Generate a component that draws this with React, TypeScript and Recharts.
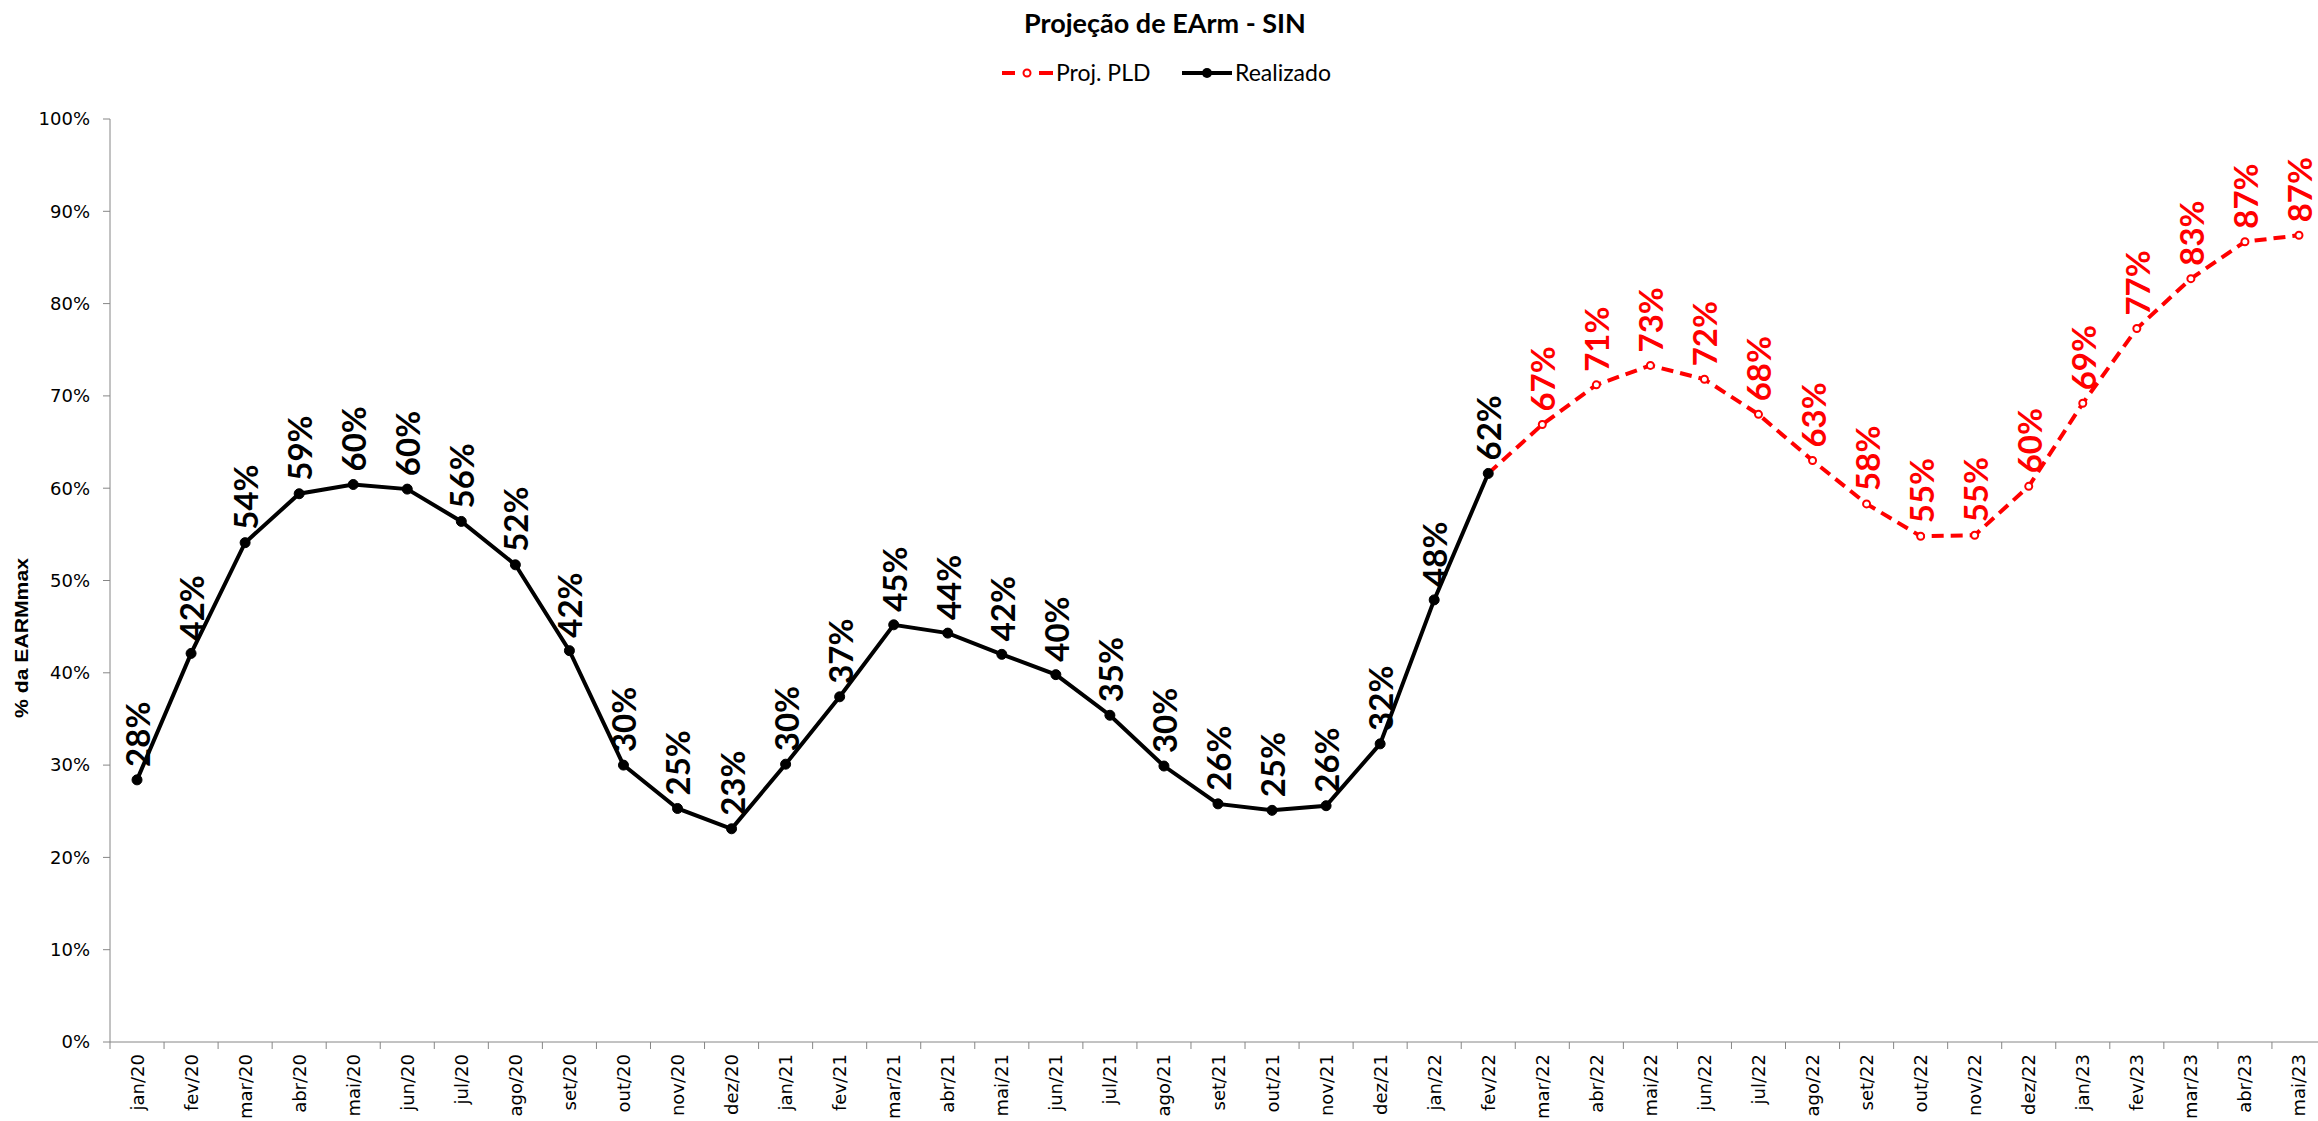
import React from 'react';
import { LineChart, Line, XAxis, YAxis, LabelList } from 'recharts';

const months = [
  'jan/20', 'fev/20', 'mar/20', 'abr/20', 'mai/20', 'jun/20', 'jul/20', 'ago/20', 'set/20', 'out/20', 'nov/20', 'dez/20',
  'jan/21', 'fev/21', 'mar/21', 'abr/21', 'mai/21', 'jun/21', 'jul/21', 'ago/21', 'set/21', 'out/21', 'nov/21', 'dez/21',
  'jan/22', 'fev/22', 'mar/22', 'abr/22', 'mai/22', 'jun/22', 'jul/22', 'ago/22', 'set/22', 'out/22', 'nov/22', 'dez/22',
  'jan/23', 'fev/23', 'mar/23', 'abr/23', 'mai/23',
];

// Realizado: jan/20 .. fev/22
const realizado = [
  28.4, 42.1, 54.1, 59.4, 60.4, 59.9, 56.4, 51.7, 42.4, 30.0, 25.3, 23.1,
  30.1, 37.4, 45.2, 44.3, 42.0, 39.8, 35.4, 29.9, 25.8, 25.1, 25.6, 32.3,
  47.9, 61.6,
];

// Proj. PLD: fev/22 .. mai/23
const projPLD = [
  61.6, 66.9, 71.2, 73.3, 71.8, 68.0, 63.0, 58.3, 54.8, 54.9, 60.2,
  69.2, 77.3, 82.7, 86.7, 87.4,
];

const yTicks = [0, 10, 20, 30, 40, 50, 60, 70, 80, 90, 100];

const projStart = realizado.length - 1;

const data = months.map((m, i) => ({
  month: m,
  realizado: i < realizado.length ? realizado[i] : null,
  proj: i >= projStart ? projPLD[i - projStart] : null,
}));

const W = 2336;
const H = 1121;
const MARGIN = { top: 119, right: 10, left: 0, bottom: 0 };
const Y_W = 110;
const X_H = 79;
const PLOT_W = W - MARGIN.left - MARGIN.right - Y_W;
const HALF = PLOT_W / months.length / 2;

const AXIS_COLOR = '#868686';
const LABEL_FONT = 'Lato, "Open Sans", sans-serif';
const AXIS_FONT = '"DejaVu Sans", Verdana, sans-serif';

const XTick = (props: any) => {
  const { x, y, payload, index } = props;
  const ly = y + 12;
  return (
    <g>
      <line x1={x - HALF} x2={x - HALF} y1={y} y2={y + 7} stroke={AXIS_COLOR} strokeWidth={1} />
      {index === months.length - 1 && (
        <line x1={x + HALF} x2={x + HALF} y1={y} y2={y + 7} stroke={AXIS_COLOR} strokeWidth={1} />
      )}
      <text
        x={x}
        y={ly}
        transform={`rotate(-90 ${x} ${ly})`}
        textAnchor="end"
        dominantBaseline="central"
        fontFamily={AXIS_FONT}
        fontSize={18}
        fill="#000"
      >
        {payload.value}
      </text>
    </g>
  );
};

const makeLabel = (color: string, skipFirst: boolean) => (props: any) => {
  const { x, y, value, index } = props;
  if (value == null || x == null || y == null) return null;
  if (skipFirst && index === projStart) return null;
  const ty = y - 13;
  return (
    <text
      x={x}
      y={ty}
      transform={`rotate(-90 ${x} ${ty})`}
      textAnchor="start"
      dominantBaseline="central"
      fontFamily={LABEL_FONT}
      fontWeight={700}
      fontSize={33}
      fill={color}
    >
      {`${Math.round(value)}%`}
    </text>
  );
};

const RedDot = (props: any) => {
  const { cx, cy, index } = props;
  if (cx == null || cy == null || props.value == null) return null;
  return <circle key={`rd-${index}`} cx={cx} cy={cy} r={3.5} fill="#fff" stroke="#FF0000" strokeWidth={2} />;
};

const BlackDot = (props: any) => {
  const { cx, cy, index } = props;
  if (cx == null || cy == null || props.value == null) return null;
  return <circle key={`bd-${index}`} cx={cx} cy={cy} r={5} fill="#000" stroke="#000" strokeWidth={1} />;
};

export default function App() {
  return (
    <div
      style={{
        position: 'fixed',
        left: 0,
        top: 0,
        width: 2318,
        height: 1121,
        overflow: 'hidden',
        background: '#fff',
      }}
    >
      <LineChart width={W} height={H} data={data} margin={MARGIN}>
        <XAxis
          dataKey="month"
          interval={0}
          height={X_H}
          padding={{ left: HALF, right: HALF }}
          axisLine={{ stroke: AXIS_COLOR, strokeWidth: 1 }}
          tickLine={false}
          tickSize={0}
          tickMargin={0}
          tick={<XTick />}
        />
        <YAxis
          width={Y_W}
          domain={[0, 100]}
          ticks={yTicks}
          tickFormatter={(v: number) => `${v}%`}
          axisLine={{ stroke: AXIS_COLOR, strokeWidth: 1 }}
          tickLine={{ stroke: AXIS_COLOR, strokeWidth: 1 }}
          tickSize={7}
          tickMargin={13}
          tick={{ fill: '#000', fontFamily: AXIS_FONT, fontSize: 18 }}
          interval={0}
        />
        <Line
          dataKey="proj"
          name="Proj. PLD"
          type="linear"
          stroke="#FF0000"
          strokeWidth={4}
          strokeDasharray="12 7"
          dot={<RedDot />}
          activeDot={false}
          isAnimationActive={false}
        >
          <LabelList dataKey="proj" content={makeLabel('#FF0000', true)} />
        </Line>
        <Line
          dataKey="realizado"
          name="Realizado"
          type="linear"
          stroke="#000"
          strokeWidth={4}
          dot={<BlackDot />}
          activeDot={false}
          isAnimationActive={false}
        >
          <LabelList dataKey="realizado" content={makeLabel('#000', false)} />
        </Line>
      </LineChart>
      <svg
        width={2318}
        height={1121}
        style={{ position: 'absolute', left: 0, top: 0, pointerEvents: 'none' }}
      >
        <text
          x={1165}
          y={33}
          textAnchor="middle"
          fontFamily={LABEL_FONT}
          fontWeight={700}
          fontSize={27}
          fill="#000"
        >
          Projeção de EArm - SIN
        </text>
        <g>
          <line x1={1002} x2={1015} y1={73} y2={73} stroke="#FF0000" strokeWidth={4} />
          <line x1={1039} x2={1053} y1={73} y2={73} stroke="#FF0000" strokeWidth={4} />
          <circle cx={1027} cy={73} r={3.5} fill="#fff" stroke="#FF0000" strokeWidth={2} />
          <text x={1056} y={81} fontFamily={LABEL_FONT} fontSize={23} fill="#000">Proj. PLD</text>
          <line x1={1182} x2={1232} y1={73} y2={73} stroke="#000" strokeWidth={4} />
          <circle cx={1207} cy={73} r={5} fill="#000" />
          <text x={1235} y={81} fontFamily={LABEL_FONT} fontSize={23} fill="#000">Realizado</text>
        </g>
        <text
          x={21}
          y={638}
          transform="rotate(-90 21 638)"
          textAnchor="middle"
          dominantBaseline="central"
          fontFamily='"Liberation Sans Narrow", "Liberation Sans", Arial, sans-serif'
          fontWeight={700}
          fontSize={19}
          textLength={160}
          lengthAdjust="spacingAndGlyphs"
          fill="#000"
        >
          % da EARMmax
        </text>
      </svg>
    </div>
  );
}
